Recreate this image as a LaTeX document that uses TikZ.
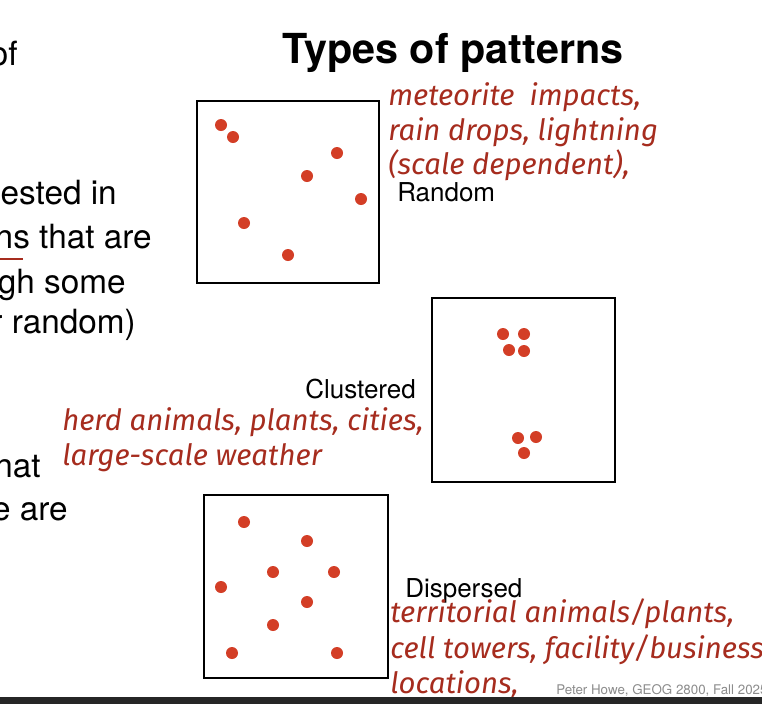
\documentclass[tikz,border=0pt]{standalone}
\usepackage{fontspec}
\setmainfont{TeX Gyre Heros}
\newfontfamily\handfont{Fira Sans}
\usepackage{tikz}
\usetikzlibrary{positioning}
\definecolor{dotred}{RGB}{211,62,38}
\definecolor{inkred}{RGB}{166,44,30}
\definecolor{footgray}{RGB}{140,140,140}
\definecolor{barblack}{RGB}{38,38,38}

\begin{document}
\begin{tikzpicture}[x=0.75pt,y=-0.75pt,
  frame/.style={draw=black,line width=0.9pt},
  body/.style={anchor=base east,inner sep=0pt,font=\fontsize{25}{30}\selectfont},
  lbl/.style={anchor=base west,inner sep=0pt,font=\fontsize{19.5}{23}\selectfont},
  note/.style={anchor=base west,inner sep=0pt,text=inkred,font=\handfont\itshape\fontsize{22}{26}\selectfont}]
  \path[use as bounding box,fill=white] (0,0) rectangle (762,704);
  \clip (0,0) rectangle (762,704);

  % slide text, cut at the left edge
  \node[body] (b1) at (18,65) {of};
  \node[body] (b2) at (117,204) {ested in};
  \node[body] (b3) at (152,248) {ns that are};
  \node[body] (b4) at (126,293) {gh some};
  \node[body] (b5) at (136,333) {r random)};
  \node[body] (b6) at (41,477) {hat};
  \node[body] (b7) at (68,520) {e are};
  \draw[inkred,line width=1.5pt] (0,259) -- (23,259);

  \node[anchor=base west,inner sep=0pt,font=\fontsize{31}{36}\selectfont\bfseries] (title) at (282,63) {Types of patterns};

  % random
  \draw[frame] (197,101) rectangle (379,283);
  \foreach \x/\y in {221/125,233/137,337/153,307/176,361/199,244/223,288/255}
    \fill[dotred] (\x,\y) circle (6);
  \node[lbl] (random) at (397,201) {Random};
  \node[note] (r1) at (388,105) {meteorite\ \ impacts,};
  \node[note] (r2) at (388,140) {rain drops, lightning};
  \node[note] (r3) at (388,174) {(scale dependent),};

  % clustered
  \draw[frame] (432,298) rectangle (615,482);
  \foreach \x/\y in {503/334,524/334,509/350,524/351,518/438,536/437,524/453}
    \fill[dotred] (\x,\y) circle (6);
  \node[lbl] (clustered) at (305,398) {Clustered};
  \node[note] (c1) at (62,430) {herd animals, plants, cities,};
  \node[note] (c2) at (62,465) {large-scale weather};

  % dispersed
  \draw[frame] (204,495) rectangle (388,678);
  \foreach \x/\y in {244/522,307/541,273/572,334/572,221/587,307/602,273/625,232/653,337/653}
    \fill[dotred] (\x,\y) circle (6);
  \node[lbl] (dispersed) at (405,597) {Dispersed};
  \node[note] (d1) at (390,622) {territorial animals/plants,};
  \node[note] (d2) at (390,658) {cell towers, facility/business};
  \node[note] (d3) at (390,693) {locations,};

  \node[anchor=base west,inner sep=0pt,text=footgray,font=\fontsize{10}{12}\selectfont] (foot) at (556,694) {Peter Howe, GEOG 2800, Fall 2025};
  \fill[barblack] (0,697) rectangle (762,704);
\end{tikzpicture}
\end{document}
